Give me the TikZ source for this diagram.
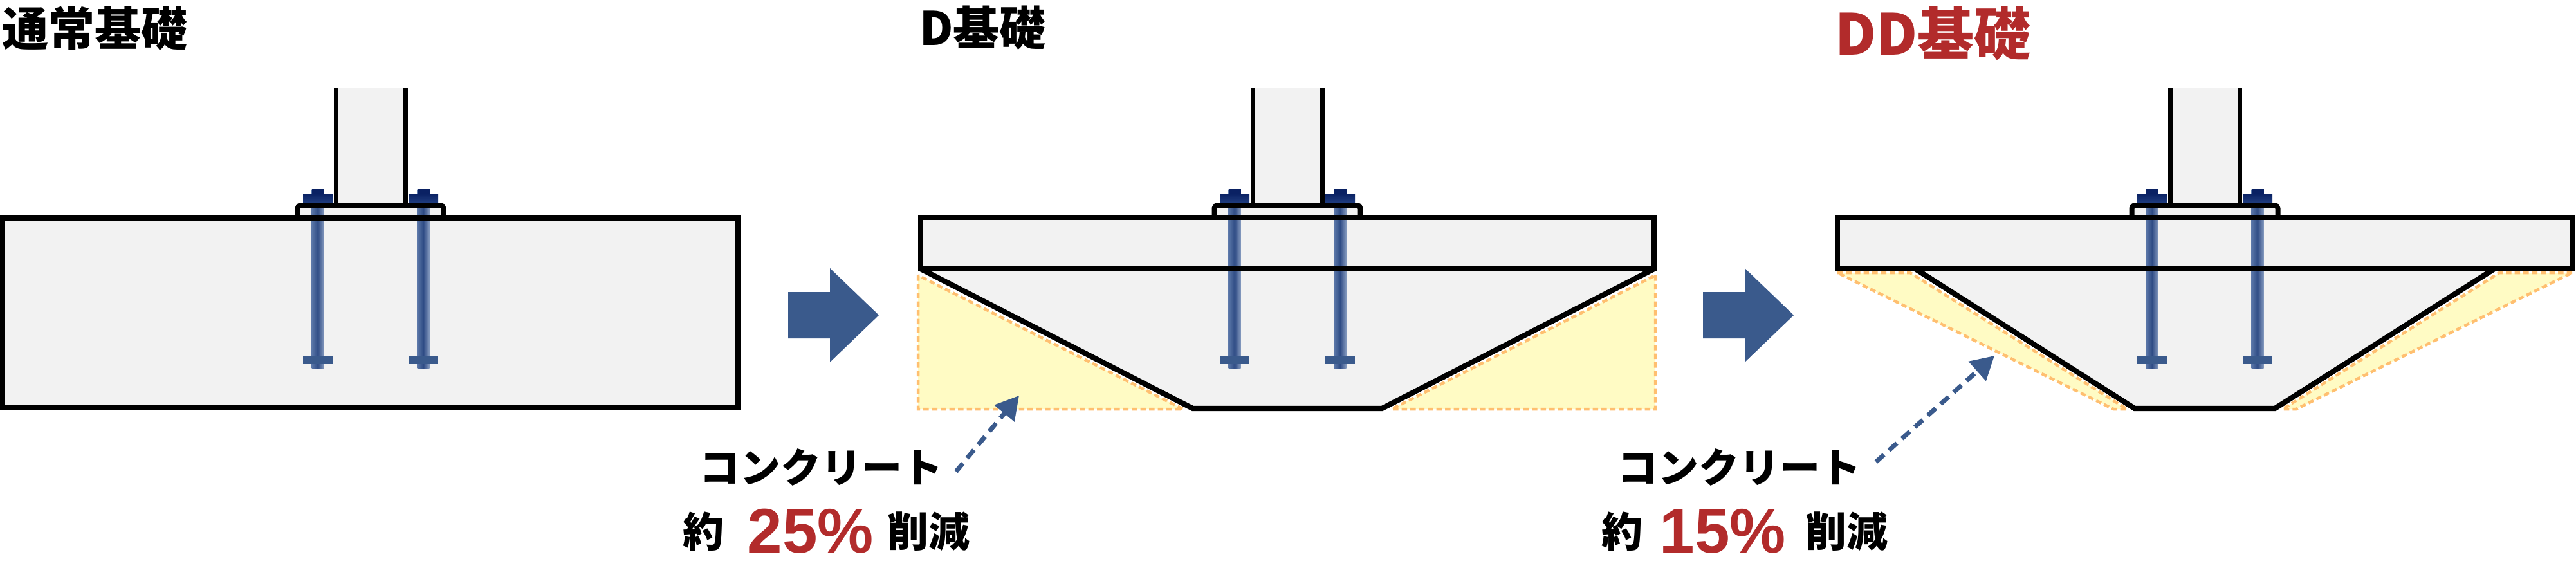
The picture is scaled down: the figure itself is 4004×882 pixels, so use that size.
\documentclass[tikz,border=0pt]{standalone}
\usepackage{fontspec}
\newfontfamily\jp{Noto Sans CJK JP}
\newfontfamily\arialf{Liberation Sans}
\usetikzlibrary{arrows.meta}
\definecolor{gfill}{HTML}{F2F2F2}
\definecolor{yfill}{HTML}{FFFBC4}
\definecolor{odash}{HTML}{FFBF70}
\definecolor{bblue}{HTML}{3A5A8C}
\definecolor{rred}{HTML}{B22B2B}
\definecolor{nutdark}{HTML}{0A2163}
\definecolor{nutmid}{HTML}{1F3C7E}
\definecolor{boltedge}{HTML}{5B77A8}
\definecolor{boltmid}{HTML}{2F4C85}
\begin{document}
\begin{tikzpicture}[x=0.2pt,y=-0.2pt,
  outl/.style={draw=black,line width=1.65pt,line join=miter},
  coll/.style={draw=black,line width=1.4pt},
  ybox/.style={fill=yfill,draw=odash,line width=0.9pt,dash pattern=on 1.7pt off 1pt},
  bigarrow/.style={fill=bblue,draw=none},
  callout/.style={draw=bblue,line width=1.4pt,dash pattern=on 3.3pt off 2.1pt,-{Triangle[length=7.2pt,width=7.8pt]}},
  ttl/.style={anchor=base west,inner sep=0pt,font=\jp\bfseries\fontsize{14.4pt}{16pt}\selectfont},
  lbl/.style={anchor=base west,inner sep=0pt,font=\jp\bfseries\fontsize{12.6pt}{14pt}\selectfont},
  pct/.style={anchor=base east,inner sep=0pt,text=rred,font=\arialf\bfseries\fontsize{19.6pt}{22pt}\selectfont}
]
\useasboundingbox (0,0) rectangle (4004,882);

% ---------- yellow (removed concrete) regions ----------
% D foundation (c = 2001)
\path[ybox] (1427,428) -- (1427,636) -- (1839,636) -- cycle;
\path[ybox] (2573,428) -- (2573,636) -- (2163,636) -- cycle;
% DD foundation (c = 3427)
\path[ybox] (2856,424) -- (2969,424) -- (3306,636) -- (3285,636) -- cycle;
\path[ybox] (3998,424) -- (3885,424) -- (3548,636) -- (3569,636) -- cycle;

% ---------- gray fills ----------
\fill[gfill] (4,339) rectangle (1147,634);
\fill[gfill] (1431,338) rectangle (2571,418);
\fill[gfill] (1431,418) -- (1854,635) -- (2148,635) -- (2571,418) -- cycle;
\fill[gfill] (2856,338) rectangle (3998,418);
\fill[gfill] (2977,418) -- (3318,635) -- (3536,635) -- (3877,418) -- cycle;
\foreach \c in {576,2001,3427}{
  \fill[gfill] ({\c-54},137) rectangle ({\c+54},319);
  \fill[gfill] ({\c-113.5},319) rectangle ({\c+113.5},338);
}

% ---------- anchor bolts ----------
\foreach \c in {576,2001,3427}{
  \foreach \s in {-1,1}{
    \shade[left color=boltedge, right color=boltedge!75!white, middle color=boltmid]
      ({\c+\s*82-9.5},294) rectangle ({\c+\s*82+9.5},572);
    \fill[nutdark] ({\c+\s*82-9.5},294) rectangle ({\c+\s*82+9.5},302);
    \shade[top color=nutdark, bottom color=nutmid]
      ({\c+\s*82-23},301) rectangle ({\c+\s*82+23},315);
    \fill[bblue] ({\c+\s*82-23},553) rectangle ({\c+\s*82+23},566);
  }
}

% ---------- outlines ----------
\draw[outl] (4,339) rectangle (1147,634);
\draw[outl] (1431,338) rectangle (2571,418);
\draw[outl] (1431,418) -- (1854,635) -- (2148,635) -- (2571,418);
\draw[outl] (2856,338) rectangle (3998,418);
\draw[outl] (2977,418) -- (3318,635) -- (3536,635) -- (3877,418);
\foreach \c in {576,2001,3427}{
  \draw[outl,line width=1.6pt,rounded corners=1pt] ({\c-113.5},338) -- ({\c-113.5},319) -- ({\c+113.5},319) -- ({\c+113.5},338);
  \draw[coll] ({\c-54},137) -- ({\c-54},316);
  \draw[coll] ({\c+54},137) -- ({\c+54},316);
}

% ---------- block arrows ----------
\fill[bigarrow] (1225,454) -- (1290,454) -- (1290,417) -- (1366,490) -- (1290,563) -- (1290,526) -- (1225,526) -- cycle;
\fill[bigarrow] (2647,454) -- (2712,454) -- (2712,417) -- (2788,490) -- (2712,563) -- (2712,526) -- (2647,526) -- cycle;

% ---------- titles ----------
\node[ttl] (t1) at (2,71) {通常基礎};
\node[ttl] (t2) at (1428,70) {D基礎};
\node[ttl,text=rred,font=\jp\bfseries\fontsize{17.6pt}{19pt}\selectfont] (t3) at (2851,85) {DD基礎};

% ---------- labels ----------
\node[lbl] (c1) at (1086,750) {コンクリート};
\node[lbl,font=\jp\bfseries\fontsize{12.8pt}{14pt}\selectfont] (y1) at (1060,850) {約};
\node[pct] (p1) at (1359,859) {25\%};
\node[lbl,font=\jp\bfseries\fontsize{12.8pt}{14pt}\selectfont] (r1) at (1378,850) {削減};

\node[lbl] (c2) at (2513,750) {コンクリート};
\node[lbl,font=\jp\bfseries\fontsize{12.8pt}{14pt}\selectfont] (y2) at (2488,850) {約};
\node[pct] (p2) at (2777,859) {15\%};
\node[lbl,font=\jp\bfseries\fontsize{12.8pt}{14pt}\selectfont] (r2) at (2805,850) {削減};

% ---------- callout arrows ----------
\coordinate (s1) at (1486,733);
\coordinate (e1) at (1584,615);
\coordinate (s2) at (2916,718);
\coordinate (e2) at (3100,553);
\draw[callout] (s1) -- (e1);
\draw[callout] (s2) -- (e2);
\end{tikzpicture}
\end{document}
